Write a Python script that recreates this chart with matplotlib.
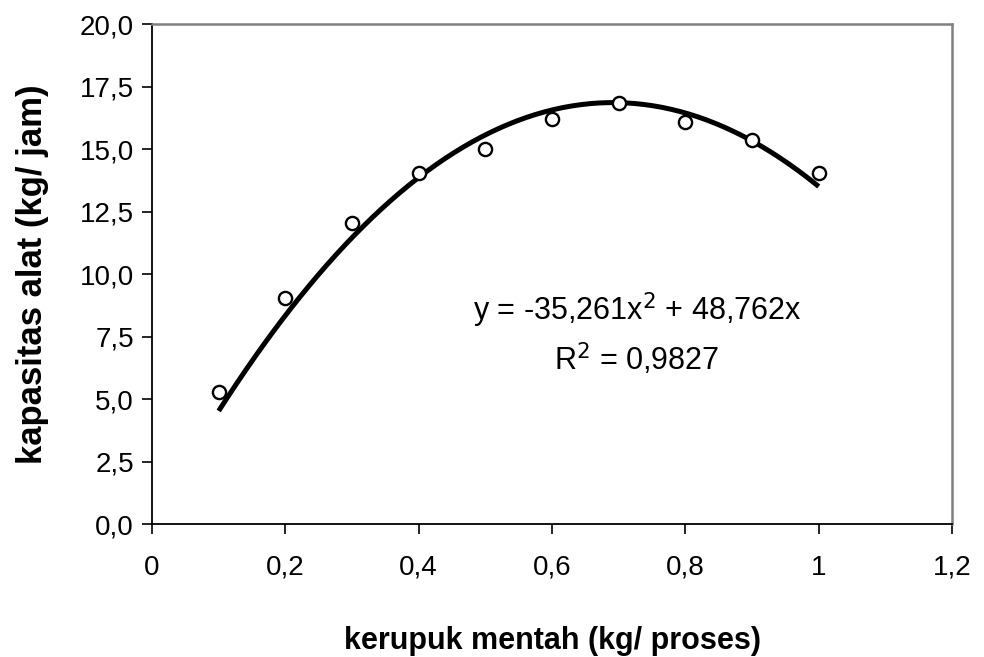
import numpy as np
import matplotlib.pyplot as plt

plt.rcParams['font.family'] = ['Liberation Sans', 'DejaVu Sans']

# data
kerupuk = [0.1, 0.2, 0.3, 0.4, 0.5, 0.6, 0.7, 0.8, 0.9, 1.0]
kapasitas = [5.3, 9.05, 12.05, 14.05, 15.0, 16.2, 16.85, 16.1, 15.35, 14.05]
koef = [-35.261, 48.762, 0.0]   # trendline polinomial orde 2
r2_text = "0,9827"

fig = plt.figure(figsize=(9.84, 6.57), dpi=100)
ax = fig.add_axes([0.1545, 0.2024, 0.813, 0.761])

# garis trend
xs = np.linspace(min(kerupuk), max(kerupuk), 200)
ax.plot(xs, np.polyval(koef, xs), color='black', lw=3.6, solid_capstyle='butt', zorder=2)

# titik data
ax.plot(kerupuk, kapasitas, 'o', mfc='white', mec='black', ms=9.5, mew=1.7, zorder=3)

ax.set_xlim(0, 1.2)
ax.set_ylim(0, 20)
ax.set_xticks(np.arange(0, 1.21, 0.2))
ax.set_xticklabels(['0', '0,2', '0,4', '0,6', '0,8', '1', '1,2'])
ax.set_yticks(np.arange(0, 20.1, 2.5))
ax.set_yticklabels([f"{v:.1f}".replace('.', ',') for v in np.arange(0, 20.1, 2.5)])
ax.tick_params(direction='out', length=7, width=1.2, labelsize=20, colors='black')
ax.tick_params(axis='x', pad=15)
ax.tick_params(axis='y', pad=6)

for s in ['left', 'bottom']:
    ax.spines[s].set_color('black')
    ax.spines[s].set_linewidth(1.3)
for s in ['top', 'right']:
    ax.spines[s].set_color('#808080')
    ax.spines[s].set_linewidth(1.8)

ax.set_xlabel('kerupuk mentah (kg/ proses)', fontsize=22, fontweight='bold', labelpad=33)
ax.set_ylabel('kapasitas alat (kg/ jam)', fontsize=25, fontweight='bold', labelpad=22)

ax.text(0.7275, 8.56, r'y = -35,261x$^{2}$ + 48,762x', fontsize=22, ha='center', va='center')
ax.text(0.7275, 6.6, r'R$^{2}$ = ' + r2_text, fontsize=22, ha='center', va='center')

fig.savefig('out.png', dpi=100)
